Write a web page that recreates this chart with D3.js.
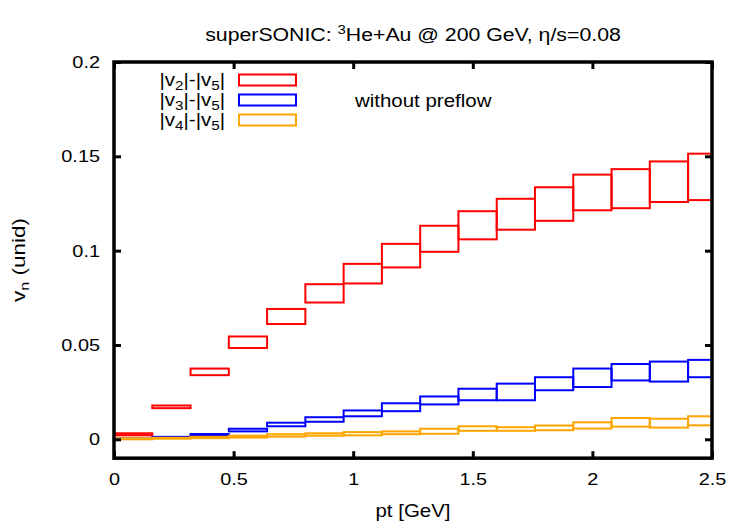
<!DOCTYPE html>
<html>
<head>
<meta charset="utf-8">
<script src="https://cdn.jsdelivr.net/npm/d3@7"></script>
<style>
  body { margin: 0; background: #fff; }
  text { font-family: "Liberation Sans", Arial, sans-serif; fill: #000; }
</style>
</head>
<body>
<script>
// pt bin edges (GeV), last bin is cut by the frame at 2.5
var ptEdges = [0, 0.16, 0.32, 0.48, 0.64, 0.8, 0.96, 1.12, 1.28, 1.44, 1.6, 1.76, 1.92, 2.08, 2.24, 2.4, 2.56]

// band low / high per bin
var v2Low  = [0.0021, 0.0165, 0.0340, 0.0484, 0.0611, 0.0725, 0.0826, 0.0911, 0.0994, 0.1060, 0.1111, 0.1158, 0.1214, 0.1225, 0.1258, 0.1268]
var v2High = [0.0032, 0.0179, 0.0375, 0.0545, 0.0691, 0.0822, 0.0930, 0.1036, 0.1132, 0.1209, 0.1275, 0.1336, 0.1403, 0.1432, 0.1473, 0.1514]
var v3Low  = [0.0002, 0.0010, 0.0018, 0.0042, 0.0069, 0.0093, 0.0122, 0.0149, 0.0185, 0.0207, 0.0207, 0.0260, 0.0277, 0.0312, 0.0306, 0.0329]
var v3High = [0.0004, 0.0013, 0.0028, 0.0056, 0.0088, 0.0117, 0.0153, 0.0191, 0.0227, 0.0268, 0.0295, 0.0329, 0.0375, 0.0399, 0.0412, 0.0421]
var v4Low  = [0.0000, 0.0003, 0.0006, 0.0009, 0.0014, 0.0019, 0.0021, 0.0027, 0.0029, 0.0045, 0.0045, 0.0048, 0.0057, 0.0067, 0.0062, 0.0074]
var v4High = [0.0005, 0.0008, 0.0013, 0.0019, 0.0027, 0.0032, 0.0038, 0.0042, 0.0056, 0.0069, 0.0064, 0.0073, 0.0090, 0.0113, 0.0109, 0.0122]

var xTicks = [0, 0.5, 1, 1.5, 2, 2.5]
var yTicks = [0, 0.05, 0.1, 0.15, 0.2]

var series = [
    {n: 2, low: v2Low, high: v2High, color: '#ff0000'},
    {n: 3, low: v3Low, high: v3High, color: '#0000ff'},
    {n: 4, low: v4Low, high: v4High, color: '#ffa500'}
]

var width = 750
var height = 525
var margin = {left: 114, right: 38, top: 62, bottom: 66}
var stretch = 1.17   // gnuplot text comes out wider than Liberation Sans

var x = d3.scaleLinear()
    .domain([0, 2.5])
    .range([margin.left, width - margin.right])

var y = d3.scaleLinear()
    .domain([0, 0.2])
    .range([439.3, margin.top])

var yBottom = y(-0.01)

var svg = d3.select('body').append('svg')
    .attr('width', width)
    .attr('height', height)

// widen a text element horizontally around its anchor
function widen(sel, k, pre) {
    sel.each(function() {
        var t = d3.select(this)
        var x0 = +t.attr('x') || 0
        t.attr('x', x0 / k).attr('transform', (pre || '') + ` scale(${k},1)`)
    })
}

svg.append('clipPath').attr('id', 'plotclip')
    .append('rect')
    .attr('x', x(0)).attr('y', y(0.2))
    .attr('width', x(2.5) - x(0)).attr('height', yBottom - y(0.2))

// boxes, red first so blue and orange sit on top
var boxes = svg.append('g').attr('clip-path', 'url(#plotclip)')
series.forEach(function(s) {
    boxes.append('g').selectAll('rect')
        .data(s.low.map(function(lo, i) { return {i: i, lo: lo, hi: s.high[i]} }))
        .join('rect')
        .attr('x', d => x(ptEdges[d.i]))
        .attr('width', d => x(ptEdges[d.i + 1]) - x(ptEdges[d.i]))
        .attr('y', d => y(d.hi))
        .attr('height', d => Math.max(y(d.lo) - y(d.hi), 0.5))
        .attr('fill', 'none')
        .attr('stroke', s.color)
        .attr('stroke-width', 2)
})

// axes with inward ticks on all four sides
function styleAxis(g) {
    g.select('.domain').remove()
    g.selectAll('.tick line').attr('stroke', '#000').attr('stroke-width', 3)
    g.selectAll('.tick text').attr('font-size', 17).attr('font-family', '"Liberation Sans", Arial, sans-serif')
    widen(g.selectAll('.tick text'), stretch)
}

svg.append('g')
    .attr('transform', `translate(0, ${yBottom})`)
    .call(d3.axisBottom(x).tickValues(xTicks).tickFormat(d3.format('')).tickSize(-7).tickPadding(15))
    .call(styleAxis)

svg.append('g')
    .attr('transform', `translate(0, ${y(0.2)})`)
    .call(d3.axisTop(x).tickValues(xTicks).tickFormat('').tickSize(-7))
    .call(styleAxis)

svg.append('g')
    .attr('transform', `translate(${x(0)}, 0)`)
    .call(d3.axisLeft(y).tickValues(yTicks).tickFormat(d3.format('')).tickSize(-7).tickPadding(14))
    .call(styleAxis)

svg.append('g')
    .attr('transform', `translate(${x(2.5)}, 0)`)
    .call(d3.axisRight(y).tickValues(yTicks).tickFormat('').tickSize(-7))
    .call(styleAxis)

// frame
svg.append('rect')
    .attr('x', x(0)).attr('y', y(0.2))
    .attr('width', x(2.5) - x(0)).attr('height', yBottom - y(0.2))
    .attr('fill', 'none')
    .attr('stroke', '#000')
    .attr('stroke-width', 3.5)

// title
var title = svg.append('text')
    .attr('x', (x(0) + x(2.5)) / 2)
    .attr('y', 41)
    .attr('text-anchor', 'middle')
    .attr('font-size', 18.5)
title.append('tspan').text('superSONIC: ')
title.append('tspan').attr('dy', -7).attr('font-size', 13).text('3')
title.append('tspan').attr('dy', 7).text('He+Au @ 200 GeV, \u03b7/s=0.08')
widen(title, 1.15)

// axis titles
var xlab = svg.append('text')
    .attr('x', (x(0) + x(2.5)) / 2)
    .attr('y', 517)
    .attr('text-anchor', 'middle')
    .attr('font-size', 17.5)
    .text('pt [GeV]')
widen(xlab, stretch)

var ylab = svg.append('text')
    .attr('text-anchor', 'middle')
    .attr('font-size', 18)
ylab.append('tspan').text('v')
ylab.append('tspan').attr('dy', 4).attr('font-size', 13).text('n')
ylab.append('tspan').attr('dy', -4).text(' (unid)')
widen(ylab, 1.25, `translate(25, ${(y(0.2) + yBottom) / 2}) rotate(-90)`)

// legend
var legend = svg.append('g')
series.forEach(function(s, i) {
    var cy = 80 + i * 20
    var t = legend.append('text')
        .attr('x', 225)
        .attr('y', cy + 6)
        .attr('text-anchor', 'end')
        .attr('font-size', 17.5)
    t.append('tspan').text('|v')
    t.append('tspan').attr('dy', 4).attr('font-size', 13).text(s.n)
    t.append('tspan').attr('dy', -4).text('|-|v')
    t.append('tspan').attr('dy', 4).attr('font-size', 13).text('5')
    t.append('tspan').attr('dy', -4).text('|')
    widen(t, stretch)
    legend.append('rect')
        .attr('x', 239).attr('y', cy - 5.5)
        .attr('width', 57).attr('height', 11)
        .attr('fill', 'none')
        .attr('stroke', s.color)
        .attr('stroke-width', 2)
})

var note = svg.append('text')
    .attr('x', 355)
    .attr('y', 107)
    .attr('font-size', 17.5)
    .text('without preflow')
widen(note, stretch)
</script>
</body>
</html>
